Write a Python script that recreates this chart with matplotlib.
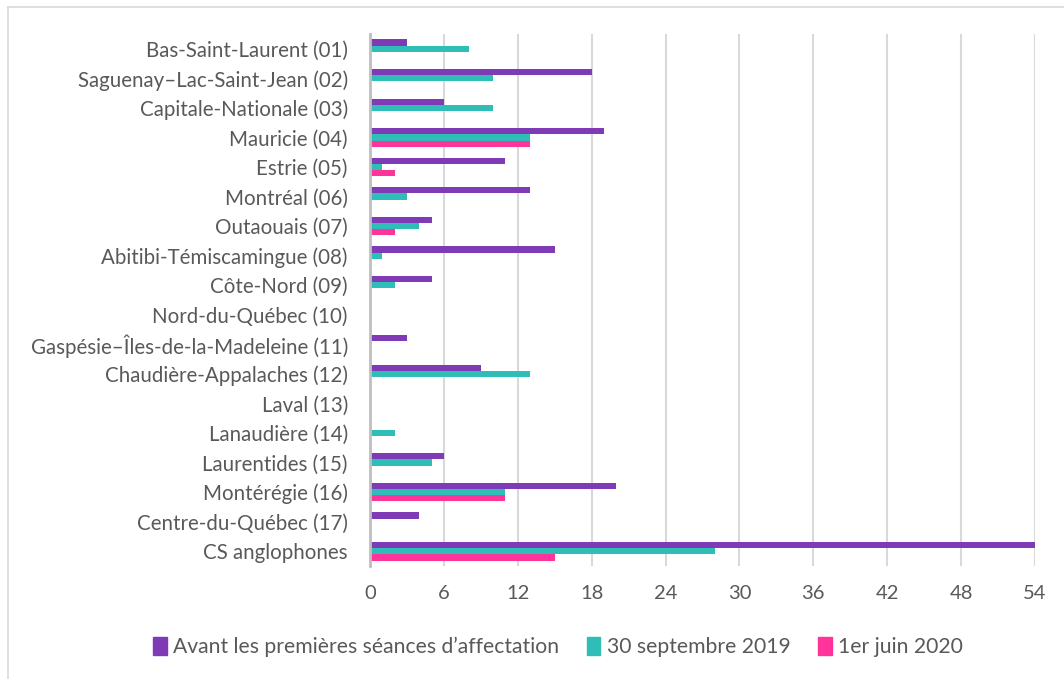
import matplotlib
matplotlib.use("Agg")
import matplotlib.pyplot as plt
import numpy as np
from matplotlib.lines import Line2D

categories = [
    "Bas-Saint-Laurent (01)",
    "Saguenay\u2013Lac-Saint-Jean (02)",
    "Capitale-Nationale (03)",
    "Mauricie (04)",
    "Estrie (05)",
    "Montréal (06)",
    "Outaouais (07)",
    "Abitibi-Témiscamingue (08)",
    "Côte-Nord (09)",
    "Nord-du-Québec (10)",
    "Gaspésie\u2013Îles-de-la-Madeleine (11)",
    "Chaudière-Appalaches (12)",
    "Laval (13)",
    "Lanaudière (14)",
    "Laurentides (15)",
    "Montérégie (16)",
    "Centre-du-Québec (17)",
    "CS anglophones",
]
avant = [3, 18, 6, 19, 11, 13, 5, 15, 5, 0, 3, 9, 0, 0, 6, 20, 4, 54]
sept2019 = [8, 10, 10, 13, 1, 3, 4, 1, 2, 0, 0, 13, 0, 2, 5, 11, 0, 28]
juin2020 = [0, 0, 0, 13, 2, 0, 2, 0, 0, 0, 0, 0, 0, 0, 0, 11, 0, 15]
series_names = ["Avant les premières séances d\u2019affectation",
                "30 septembre 2019", "1er juin 2020"]
xticks = [0, 6, 12, 18, 24, 30, 36, 42, 48, 54]

colors = ["#7F3AB6", "#2EBDB7", "#FF3399"]
textc = "#595959"
plt.rcParams['font.family'] = ['Lato', 'DejaVu Sans']

W, H = 1064, 679
fig = plt.figure(figsize=(W / 100, H / 100), dpi=100)
ax = fig.add_axes([370 / W, 1 - 566 / H, (1035 - 370) / W, 532 / H])

y = np.arange(len(categories))
h = 0.21
for i, (vals, c) in enumerate(zip([avant, sept2019, juin2020], colors)):
    ax.barh(y + (i - 1) * h, vals, height=h, color=c, label=series_names[i], zorder=3)

ax.set_ylim(len(categories) - 0.5, -0.5)
ax.set_xlim(0, 54)
ax.set_xticks(xticks)
ax.set_yticks(y)
ax.set_yticklabels(categories, fontsize=14.8, color=textc)
ax.tick_params(axis='y', length=0, pad=16)
ax.tick_params(axis='x', length=0, pad=14, labelsize=14.5, labelcolor=textc)
ax.grid(axis='x', color="#D9D9D9", linewidth=1.5, zorder=0)
for s in ['top', 'right', 'bottom']:
    ax.spines[s].set_visible(False)
ax.spines['left'].set_color("#BFBFBF")
ax.spines['left'].set_linewidth(2)
ax.spines['left'].set_zorder(4)

handles = [plt.Rectangle((0, 0), 1, 1, color=c) for c in colors]
fig.legend(handles, series_names, loc='center', bbox_to_anchor=(558 / W, 1 - 647 / H),
           ncol=3, frameon=False, fontsize=15.2, handlelength=0.65, handleheight=0.9,
           handletextpad=0.3, columnspacing=1.3, labelcolor=textc)

# outer border
fig.add_artist(Line2D([8 / W, 8 / W], [0, 1 - 7 / H], transform=fig.transFigure,
                      color="#D9D9D9", linewidth=1.2))
fig.add_artist(Line2D([8 / W, 1], [1 - 7 / H, 1 - 7 / H], transform=fig.transFigure,
                      color="#D9D9D9", linewidth=1.2))

fig.savefig("out.png", dpi=100, facecolor="white")
